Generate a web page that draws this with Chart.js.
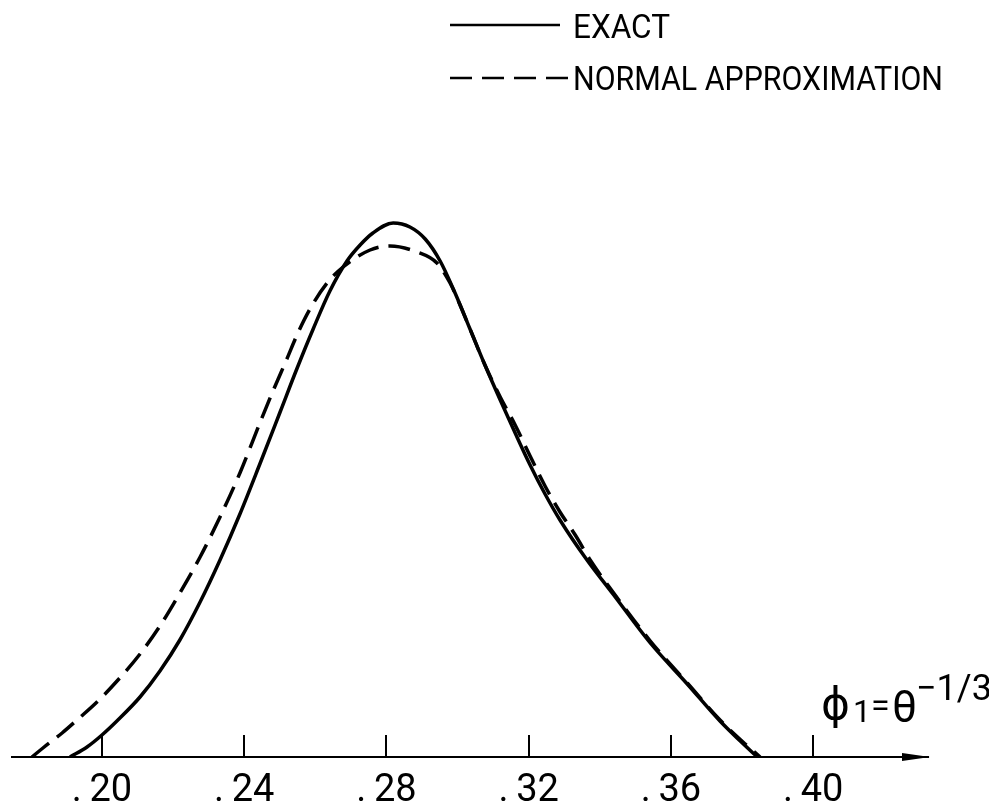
<!DOCTYPE html>
<html>
<head>
<meta charset="utf-8">
<script src="https://cdn.jsdelivr.net/npm/chart.js@4.4.0/dist/chart.umd.min.js"></script>
<style>
  html, body { margin: 0; padding: 0; background: #fff; }
  canvas { display: block; }
</style>
</head>
<body>
<canvas id="grafica" width="989" height="803"></canvas>
<script>
// valores (x = phi1, y = densidad en unidades arbitrarias)
const exactX = [0.1910, 0.1958, 0.2000, 0.2042, 0.2107, 0.2163, 0.2219, 0.2276, 0.2332, 0.2388,
  0.2444, 0.2501, 0.2549, 0.2594, 0.2641, 0.2689, 0.2726, 0.2762, 0.2819, 0.2866,
  0.2909, 0.2951, 0.2993, 0.3035, 0.3077, 0.3120, 0.3162, 0.3204, 0.3246, 0.3288,
  0.3364, 0.3437, 0.3542, 0.3646, 0.3738, 0.3795, 0.3843];
const exactY = [0, 1.0, 2.2, 3.6, 6.0, 8.6, 11.7, 15.5, 19.7, 24.3,
  29.3, 34.5, 38.9, 42.8, 46.6, 49.6, 51.2, 52.4, 53.4, 53.0,
  51.8, 49.6, 46.4, 42.8, 39.2, 35.7, 32.4, 29.2, 26.3, 23.7,
  19.7, 16.3, 11.4, 7.3, 3.6, 1.6, 0];

const normalX = [0.1803, 0.1834, 0.1888, 0.1933, 0.1986, 0.2045, 0.2107, 0.2163, 0.2219, 0.2276,
  0.2332, 0.2388, 0.2444, 0.2481, 0.2520, 0.2551, 0.2585, 0.2633, 0.2678, 0.2754,
  0.2810, 0.2886, 0.2942, 0.2979, 0.3007, 0.3035, 0.3077, 0.3120, 0.3162, 0.3204,
  0.3246, 0.3288, 0.3331, 0.3373, 0.3437, 0.3542, 0.3646, 0.3738, 0.3809, 0.3851];
const normalY = [0, 0.9, 2.4, 3.8, 5.5, 7.7, 10.3, 13.1, 16.4, 20.0,
  24.0, 28.4, 33.4, 36.6, 39.8, 42.4, 44.8, 47.4, 49.0, 50.7,
  51.1, 50.5, 49.4, 47.4, 45.2, 42.8, 39.2, 36.0, 33.2, 30.1,
  27.1, 24.5, 22.2, 19.7, 16.5, 11.6, 7.4, 3.7, 1.3, 0];

const tickValues = [0.20, 0.24, 0.28, 0.32, 0.36, 0.40];
const seriesLabels = ['EXACT', 'NORMAL APPROXIMATION'];

const fuente = 'Roboto, "DejaVu Sans", sans-serif';

// Dibuja la flecha del eje, la leyenda y el titulo del eje
const decoraciones = {
  id: 'decoraciones',
  afterDraw(chart) {
    const ctx = chart.ctx;
    const xScale = chart.scales.x;
    const y0 = xScale.top;

    ctx.save();
    ctx.fillStyle = '#000';
    ctx.strokeStyle = '#000';

    // punta de flecha
    ctx.beginPath();
    ctx.moveTo(xScale.right - 26, y0 - 4);
    ctx.lineTo(xScale.right + 2, y0);
    ctx.lineTo(xScale.right - 26, y0 + 4);
    ctx.closePath();
    ctx.fill();

    // leyenda
    const filas = [
      { y: 25, x1: 450, x2: 560, textoY: 38, ancho: 97 },
      { y: 78, x1: 450, x2: 568, textoY: 90, ancho: 370 }
    ];
    chart.data.datasets.forEach((ds, i) => {
      const f = filas[i];
      ctx.lineWidth = 2.5;
      ctx.setLineDash(ds.borderDash || []);
      ctx.beginPath();
      ctx.moveTo(f.x1, f.y);
      ctx.lineTo(f.x2, f.y);
      ctx.stroke();
      ctx.setLineDash([]);
      ctx.font = '33px ' + fuente;
      ctx.textBaseline = 'alphabetic';
      ctx.textAlign = 'left';
      ctx.fillText(ds.label, 573, f.textoY, f.ancho);
    });

    // titulo del eje: phi1 = theta^(-1/3)
    ctx.textBaseline = 'alphabetic';
    ctx.font = '44px ' + fuente;
    ctx.fillText('ϕ', 821, 719);
    ctx.font = '32px ' + fuente;
    ctx.fillText('1', 853, 722);
    ctx.font = '34px ' + fuente;
    ctx.fillText('=', 871, 717);
    ctx.font = '44px ' + fuente;
    ctx.fillText('θ', 892, 722);
    ctx.font = '36px ' + fuente;
    ctx.fillText('−1/3', 916, 700);

    ctx.restore();
  }
};

const ctx = document.getElementById('grafica').getContext('2d');
new Chart(ctx, {
  type: 'line',
  data: {
    datasets: [{
      label: seriesLabels[0],
      data: exactX.map((x, i) => ({ x: x, y: exactY[i] })),
      borderColor: '#000',
      borderWidth: 3.5,
      fill: false,
      cubicInterpolationMode: 'monotone'
    }, {
      label: seriesLabels[1],
      data: normalX.map((x, i) => ({ x: x, y: normalY[i] })),
      borderColor: '#000',
      borderWidth: 3.5,
      borderDash: [22, 10],
      fill: false,
      cubicInterpolationMode: 'monotone'
    }]
  },
  options: {
    responsive: false,
    animation: false,
    layout: {
      padding: { top: 157, left: 12, right: 61, bottom: 0 }
    },
    elements: {
      point: { radius: 0 }
    },
    plugins: {
      legend: { display: false },
      tooltip: { enabled: false }
    },
    scales: {
      x: {
        type: 'linear',
        min: 0.1747,
        max: 0.4323,
        afterBuildTicks: scale => {
          scale.ticks = tickValues.map(v => ({ value: v }));
        },
        afterFit: scale => {
          scale.height = 46;
        },
        border: { display: true, color: '#000', width: 2 },
        grid: {
          display: true,
          drawOnChartArea: false,
          drawTicks: true,
          tickLength: -22,
          color: '#000',
          lineWidth: 2
        },
        ticks: {
          color: '#000',
          font: { family: fuente, size: 38 },
          padding: 34,
          maxRotation: 0,
          autoSkip: false,
          callback: v => '.\u2009' + Math.round(v * 100)
        }
      },
      y: {
        display: false,
        min: 0,
        max: 60
      }
    }
  },
  plugins: [decoraciones]
});
</script>
</body>
</html>
